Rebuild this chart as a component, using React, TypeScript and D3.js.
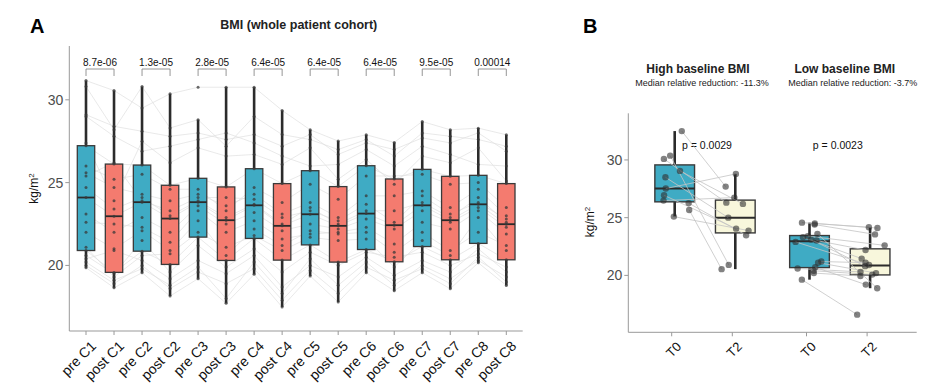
import React from "react";
import * as d3 from "d3";

// ---------- Panel A data ----------
const categoriesA = [
  "pre C1", "post C1", "pre C2", "post C2", "pre C3", "post C3", "pre C4", "post C4",
  "pre C5", "post C5", "pre C6", "post C6", "pre C7", "post C7", "pre C8", "post C8",
];
const bmiPreC1 = [19.86, 20.0, 20.2, 20.4, 20.6, 20.9, 21.1, 22.0, 22.6, 23.1, 24.1, 24.7, 25.4, 25.6, 26.0, 27.23, 27.4, 29.0, 29.1, 30.8, 31.16];
const bmiPostC1 = [18.65, 18.9, 19.1, 20.9, 19.5, 19.58, 19.3, 21.0, 22.5, 22.0, 22.97, 23.4, 26.2, 24.7, 25.2, 26.12, 23.9, 27.8, 28.4, 28.2, 30.56];
const bmiPreC2 = [19.56, 20.0, 19.8, 20.3, 21.5, 20.86, 20.6, 22.1, 22.3, 22.9, 23.82, 24.1, 23.9, 24.3, 25.5, 26.06, 27.5, 26.9, 28.1, 30.8, 29.5];
const bmiPostC2 = [18.15, 18.6, 18.8, 19.2, 19.6, 20.06, 20.7, 20.9, 21.4, 22.0, 22.83, 23.0, 23.3, 23.9, 24.6, 24.84, 26.2, 27.2, 27.8, 28.3, 30.36];
const bmiPreC3 = [19.2, 19.6, 19.9, 20.3, 21.2, 21.71, 22.0, 22.7, 23.3, 23.6, 23.82, 23.9, 24.1, 24.3, 24.6, 25.26, 27.1, 27.6, 28.0, 28.8, 30.76];
const bmiPostC3 = [17.71, 18.9, 18.0, 19.5, 19.9, 20.3, 21.1, 20.6, 22.0, 22.5, 22.73, 22.9, 24.1, 23.6, 23.3, 24.74, 26.6, 28.0, 27.6, 27.2, 30.76];
const bmiPreC4 = [19.46, 19.8, 20.2, 20.6, 21.0, 21.63, 21.8, 22.2, 22.7, 23.2, 23.63, 23.7, 24.0, 24.3, 24.7, 25.84, 26.7, 27.4, 27.9, 29.0, 30.76];
const bmiPostC4 = [17.49, 17.9, 18.3, 18.7, 19.6, 20.32, 20.9, 21.2, 21.6, 22.1, 22.39, 22.5, 22.9, 23.1, 23.8, 24.94, 26.1, 26.6, 27.2, 27.9, 29.36];
const bmiPreC5 = [19.36, 19.7, 20.4, 20.0, 20.8, 21.24, 21.7, 22.1, 21.9, 22.5, 23.09, 23.5, 23.3, 23.8, 24.9, 25.72, 27.1, 26.0, 27.9, 27.6, 28.19];
const bmiPostC5 = [17.79, 18.3, 18.8, 19.3, 20.0, 20.2, 21.5, 21.9, 22.0, 22.2, 22.39, 22.5, 22.7, 22.9, 24.0, 24.76, 25.2, 26.1, 26.7, 27.0, 27.51];
const bmiPreC6 = [19.56, 19.9, 20.2, 20.5, 20.8, 20.96, 21.6, 22.0, 22.3, 22.8, 23.13, 23.3, 23.7, 24.2, 25.4, 26.02, 26.4, 27.0, 27.4, 27.6, 27.89];
const bmiPostC6 = [18.47, 19.1, 18.8, 19.4, 20.5, 20.22, 19.9, 20.8, 21.3, 22.2, 22.43, 23.3, 22.6, 24.2, 25.4, 25.22, 24.9, 26.0, 27.0, 26.6, 27.43];
const bmiPreC7 = [19.56, 19.8, 20.0, 20.3, 20.8, 21.14, 21.5, 22.0, 22.6, 23.3, 23.63, 23.8, 24.2, 24.5, 25.5, 25.8, 26.6, 27.2, 27.7, 28.0, 28.69];
const bmiPostC7 = [18.59, 18.9, 19.2, 19.6, 20.0, 20.34, 20.6, 20.9, 22.2, 22.6, 22.73, 22.9, 23.1, 23.5, 24.9, 25.38, 26.2, 26.7, 27.4, 27.8, 28.19];
const bmiPreC8 = [20.16, 20.5, 20.3, 21.0, 20.7, 21.33, 22.9, 22.0, 23.3, 23.5, 23.69, 24.1, 23.8, 24.6, 25.0, 25.44, 27.1, 26.1, 28.0, 27.6, 28.29];
const bmiPostC8 = [18.79, 19.0, 19.3, 19.6, 19.9, 20.34, 20.9, 21.2, 21.9, 22.3, 22.49, 22.6, 22.8, 23.0, 23.5, 24.94, 25.1, 26.0, 26.9, 27.2, 27.89];
const seriesA = [
  bmiPreC1, bmiPostC1, bmiPreC2, bmiPostC2, bmiPreC3, bmiPostC3, bmiPreC4, bmiPostC4,
  bmiPreC5, bmiPostC5, bmiPreC6, bmiPostC6, bmiPreC7, bmiPostC7, bmiPreC8, bmiPostC8,
];
const pValuesA = ["8.7e-06", "1.3e-05", "2.8e-05", "6.4e-05", "6.4e-05", "6.4e-05", "9.5e-05", "0.00014"];
const yTicksA = [20, 25, 30];

// ---------- Panel B data ----------
const groupsB = ["High baseline BMI", "Low baseline BMI"];
const subtitlesB = ["Median relative reduction: -11.3%", "Median relative reduction: -3.7%"];
const pValuesB = ["p = 0.0029", "p = 0.0023"];
const timesB = ["T0", "T2"];
const highT0 = [32.5, 30.37, 30.09, 29.05, 28.5, 27.52, 26.94, 26.48, 26.26, 25.67, 25.09];
const highT2 = [27.69, 20.91, 26.3, 26.19, 25.0, 28.79, 24.05, 26.74, 23.48, 20.54, 23.88];
const lowT0 = [19.63, 20.2, 20.4, 20.6, 20.7, 21.1, 21.2, 22.9, 23.02, 23.1, 23.3, 23.4, 23.6, 24.4, 24.5, 24.57];
const lowT2 = [16.6, 19.95, 20.07, 20.3, 19.2, 20.2, 21.1, 20.9, 22.2, 20.8, 21.45, 22.6, 18.89, 23.55, 24.1, 24.17];
const yTicksB = [20, 25, 30];

const FONT = "'Liberation Sans', Arial, Helvetica, sans-serif";
const BLUE = "#3FABC4";
const SALMON = "#F47B6F";
const CREAM = "#F8F7DC";

function boxStats(vals: number[]) {
  const s = vals.slice().sort(d3.ascending);
  const q1 = d3.quantile(s, 0.25)!;
  const med = d3.quantile(s, 0.5)!;
  const q3 = d3.quantile(s, 0.75)!;
  const iqr = q3 - q1;
  const lo = d3.min(s.filter((v) => v >= q1 - 1.5 * iqr))!;
  const hi = d3.max(s.filter((v) => v <= q3 + 1.5 * iqr))!;
  return { q1, med, q3, lo, hi };
}

function PanelA() {
  const x = d3.scalePoint<string>().domain(categoriesA).range([86, 506.3]);
  const y = d3.scaleLinear().domain([16.04, 33.25]).range([331, 46]);
  const axisL = 69.3;
  const axisR = 522.7;
  const bw = 17.4;
  const nPat = seriesA[0].length;
  const line = d3
    .line<[number, number]>()
    .x((d) => d[0])
    .y((d) => d[1]);
  return (
    <g>
      <text x={30} y={33} fontSize={20} fontWeight="bold" fontFamily={FONT}>A</text>
      <text x={298.8} y={29} fontSize={12.5} fontWeight="bold" textAnchor="middle" fontFamily={FONT} fill="#222">
        BMI (whole patient cohort)
      </text>
      {/* patient trajectories */}
      {d3.range(nPat).map((i) => (
        <path
          key={"l" + i}
          d={line(categoriesA.map((c, k) => [x(c)!, y(seriesA[k][i])]))!}
          fill="none"
          stroke="#e0e0e0"
          strokeWidth={0.7}
        />
      ))}
      {/* boxes */}
      {categoriesA.map((c, k) => {
        const st = boxStats(seriesA[k]);
        const cx = x(c)!;
        const fill = k % 2 === 0 ? BLUE : SALMON;
        return (
          <g key={"b" + k}>
            <line x1={cx} x2={cx} y1={y(st.hi)} y2={y(st.q3)} stroke="#2b2b2b" strokeWidth={2.6} />
            <line x1={cx} x2={cx} y1={y(st.q1)} y2={y(st.lo)} stroke="#2b2b2b" strokeWidth={2.6} />
            <rect
              x={cx - bw / 2}
              y={y(st.q3)}
              width={bw}
              height={y(st.q1) - y(st.q3)}
              fill={fill}
              stroke="#3a3a3a"
              strokeWidth={1.3}
            />
            <line x1={cx - bw / 2} x2={cx + bw / 2} y1={y(st.med)} y2={y(st.med)} stroke="#2b2b2b" strokeWidth={1.8} />
          </g>
        );
      })}
      {/* points */}
      {categoriesA.map((c, k) =>
        seriesA[k].map((v, i) => (
          <circle key={"p" + k + "-" + i} cx={x(c)!} cy={y(v)} r={1.5} fill="#3a3a3a" fillOpacity={0.75} />
        ))
      )}
      {/* p-value brackets */}
      {pValuesA.map((p, j) => {
        const x1 = x(categoriesA[2 * j])!;
        const x2 = x(categoriesA[2 * j + 1])!;
        return (
          <g key={"pv" + j}>
            <path d={`M${x1},76V69H${x2}V76`} fill="none" stroke="#8a8a8a" strokeWidth={0.9} />
            <text x={(x1 + x2) / 2} y={66} fontSize={10} textAnchor="middle" fontFamily={FONT} fill="#111">
              {p}
            </text>
          </g>
        );
      })}
      {/* axes */}
      <line x1={axisL} x2={axisL} y1={46} y2={331} stroke="#999" strokeWidth={1} />
      <line x1={axisL} x2={axisR} y1={331} y2={331} stroke="#999" strokeWidth={1} />
      {yTicksA.map((t) => (
        <g key={"yt" + t}>
          <line x1={axisL - 4} x2={axisL} y1={y(t)} y2={y(t)} stroke="#999" />
          <text x={axisL - 6} y={y(t)} dy="0.35em" fontSize={14} textAnchor="end" fontFamily={FONT} fill="#4d4d4d">
            {t}
          </text>
        </g>
      ))}
      {categoriesA.map((c) => (
        <g key={"xt" + c}>
          <line x1={x(c)!} x2={x(c)!} y1={331} y2={335} stroke="#999" />
          <text
            transform={`translate(${x(c)! + 4},${340}) rotate(-45)`}
            fontSize={14}
            textAnchor="end"
            dy="0.7em"
            fontFamily={FONT}
            fill="#111"
          >
            {c}
          </text>
        </g>
      ))}
      <text
        transform={`translate(38,188.5) rotate(-90)`}
        fontSize={12}
        textAnchor="middle"
        fontFamily={FONT}
        fill="#111"
      >
        kg/m<tspan dy="-4" fontSize={8}>2</tspan>
      </text>
    </g>
  );
}

function PanelB() {
  const gx = d3.scalePoint<string>().domain(groupsB).range([702, 836.8]);
  const tx = d3.scalePoint<string>().domain(timesB).range([-30.3, 30.3]);
  const y = d3.scaleLinear().domain([15.07, 34.04]).range([332.3, 113.3]);
  const axisL = 628.3;
  const axisR = 916.7;
  const bw = 39.7;
  const nudge = 3;
  const rnd = d3.randomLcg(0.42);
  const data = [
    [highT0, highT2],
    [lowT0, lowT2],
  ];
  const fills = [BLUE, CREAM];
  const jit = data.map((pair) => pair.map((arr) => arr.map(() => (rnd() - 0.5) * 30)));
  return (
    <g>
      <text x={583} y={33} fontSize={20} fontWeight="bold" fontFamily={FONT}>B</text>
      {groupsB.map((g, gi) => (
        <g key={"h" + g}>
          <text x={gx(g)! - 4 + gi * 12} y={72.7} fontSize={12} fontWeight="bold" textAnchor="middle" fontFamily={FONT} fill="#222">
            {g}
          </text>
          <text x={gx(g)! + 0 + gi * 16} y={86} fontSize={9} textAnchor="middle" fontFamily={FONT} fill="#222">
            {subtitlesB[gi]}
          </text>
          <text x={gx(g)! + 5 + gi * -4} y={149.3} fontSize={10.5} textAnchor="middle" fontFamily={FONT} fill="#111">
            {pValuesB[gi]}
          </text>
        </g>
      ))}
      {/* boxes */}
      {groupsB.map((g, gi) =>
        timesB.map((t, ti) => {
          const st = boxStats(data[gi][ti]);
          const cx = gx(g)! + tx(t)! + nudge;
          return (
            <g key={"bx" + gi + ti}>
              <line x1={cx} x2={cx} y1={y(st.hi)} y2={y(st.q3)} stroke="#2b2b2b" strokeWidth={2.6} />
              <line x1={cx} x2={cx} y1={y(st.q1)} y2={y(st.lo)} stroke="#2b2b2b" strokeWidth={2.6} />
              <rect
                x={cx - bw / 2}
                y={y(st.q3)}
                width={bw}
                height={y(st.q1) - y(st.q3)}
                fill={fills[ti]}
                stroke="#3a3a3a"
                strokeWidth={1.4}
              />
              <line x1={cx - bw / 2} x2={cx + bw / 2} y1={y(st.med)} y2={y(st.med)} stroke="#2b2b2b" strokeWidth={2} />
            </g>
          );
        })
      )}
      {/* paired lines */}
      {groupsB.map((g, gi) =>
        data[gi][0].map((v0, i) => {
          const x0 = gx(g)! + tx("T0")! + nudge + jit[gi][0][i];
          const x1 = gx(g)! + tx("T2")! + nudge + jit[gi][1][i];
          return (
            <line
              key={"pl" + gi + "-" + i}
              x1={x0}
              y1={y(v0)}
              x2={x1}
              y2={y(data[gi][1][i])}
              stroke="#c4c4c4"
              strokeWidth={0.8}
            />
          );
        })
      )}
      {/* points */}
      {groupsB.map((g, gi) =>
        timesB.map((t, ti) =>
          data[gi][ti].map((v, i) => (
            <circle
              key={"pt" + gi + ti + i}
              cx={gx(g)! + tx(t)! + nudge + jit[gi][ti][i]}
              cy={y(v)}
              r={3.2}
              fill="#2e2e2e"
              fillOpacity={0.6}
            />
          ))
        )
      )}
      {/* axes */}
      <line x1={axisL} x2={axisL} y1={113.3} y2={332.3} stroke="#999" strokeWidth={1} />
      <line x1={axisL} x2={axisR} y1={332.3} y2={332.3} stroke="#999" strokeWidth={1} />
      {yTicksB.map((t) => (
        <g key={"ybt" + t}>
          <line x1={axisL - 4} x2={axisL} y1={y(t)} y2={y(t)} stroke="#999" />
          <text x={axisL - 6} y={y(t)} dy="0.35em" fontSize={14} textAnchor="end" fontFamily={FONT} fill="#4d4d4d">
            {t}
          </text>
        </g>
      ))}
      {groupsB.map((g) =>
        timesB.map((t) => {
          const tx0 = gx(g)! + tx(t)!;
          return (
            <g key={"xbt" + g + t}>
              <line x1={tx0} x2={tx0} y1={332.3} y2={336.3} stroke="#999" />
              <text
                transform={`translate(${tx0 + 4},${341}) rotate(-45)`}
                fontSize={13}
                textAnchor="end"
                dy="0.7em"
                fontFamily={FONT}
                fill="#111"
              >
                {t}
              </text>
            </g>
          );
        })
      )}
      <text
        transform={`translate(594,222) rotate(-90)`}
        fontSize={12}
        textAnchor="middle"
        fontFamily={FONT}
        fill="#111"
      >
        kg/m<tspan dy="-4" fontSize={8}>2</tspan>
      </text>
    </g>
  );
}

export default function App() {
  return (
    <svg
      width={934}
      height={385}
      viewBox="0 0 934 385"
      style={{ position: "absolute", left: 0, top: 0, background: "#fff" }}
    >
      <rect width={934} height={385} fill="#fff" />
      <PanelA />
      <PanelB />
    </svg>
  );
}
